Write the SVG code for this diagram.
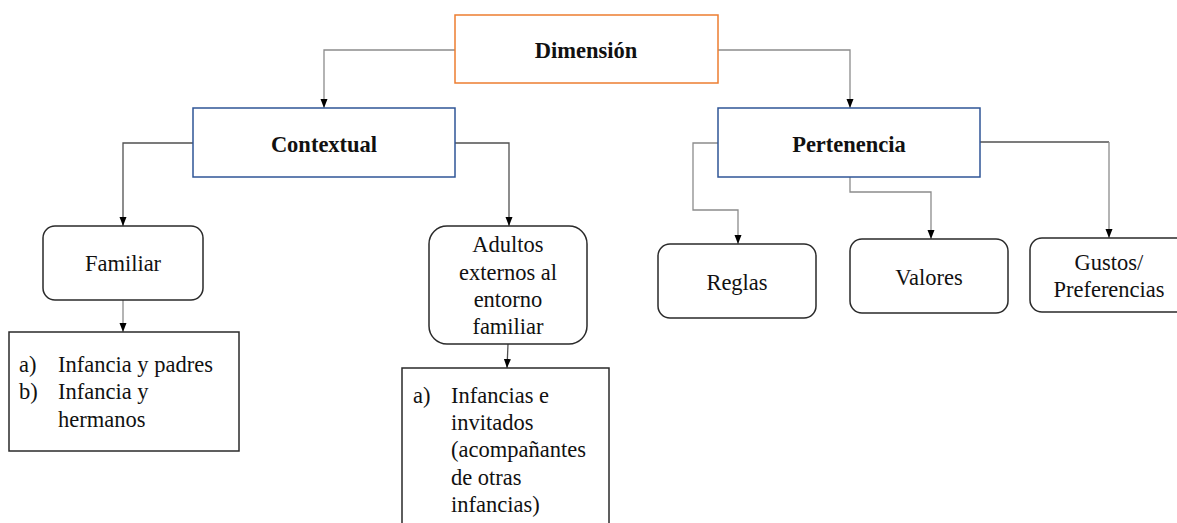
<svg xmlns="http://www.w3.org/2000/svg" width="1177" height="523" viewBox="0 0 1177 523">
<style>
  text{font-family:'Liberation Serif','Times New Roman',Times,serif;font-size:22.5px;fill:#111;}
  .c{text-anchor:middle;}
  .b{font-weight:bold;}
  .conn{fill:none;stroke:#8c8c8c;stroke-width:1.3;}
  .dark{stroke:#505050;}
  .box{fill:#fff;stroke:#2a2a2a;stroke-width:1.5;}
  .orange{fill:#fff;stroke:#ED7D31;stroke-width:1.5;}
  .blue{fill:#fff;stroke:#2F5597;stroke-width:1.5;}
</style>
<defs>
  <marker id="arr" markerUnits="userSpaceOnUse" markerWidth="9" markerHeight="9" viewBox="0 0 9 9" refX="9" refY="4.5" orient="auto">
    <path d="M0,1 L9,4.5 L0,8 Z" fill="#000"/>
  </marker>
</defs>
<rect width="1177" height="523" fill="#fff"/>
<g id="connectors">
  <path class="conn" d="M455,50 H324 V108" marker-end="url(#arr)"/>
  <path class="conn" d="M718,50 H850 V108" marker-end="url(#arr)"/>
  <path class="conn dark" d="M193,143 H123 V226" marker-end="url(#arr)"/>
  <path class="conn dark" d="M455,143 H509 V226" marker-end="url(#arr)"/>
  <path class="conn" d="M123,300 V332" marker-end="url(#arr)"/>
  <path class="conn dark" d="M508,344 L507,368" marker-end="url(#arr)"/>
  <path class="conn" d="M718,143 H693 V210 H738 V244" marker-end="url(#arr)"/>
  <path class="conn" d="M850,177 V192 H931 V239" marker-end="url(#arr)"/>
  <path class="conn dark" d="M980,142 H1109"/>
  <path class="conn" d="M1109,142 V238" marker-end="url(#arr)"/>
</g>
<g id="dimension">
  <rect class="orange" x="455" y="15" width="263" height="68"/>
  <text class="c b" x="586" y="58">Dimensión</text>
</g>
<g id="contextual">
  <rect class="blue" x="193" y="108" width="262" height="69"/>
  <text class="c b" x="324" y="152">Contextual</text>
</g>
<g id="pertenencia">
  <rect class="blue" x="718" y="108" width="262" height="69"/>
  <text class="c b" x="849" y="152">Pertenencia</text>
</g>
<g id="familiar">
  <rect class="box" x="43" y="226" width="160" height="74" rx="12"/>
  <text class="c" x="123" y="271">Familiar</text>
</g>
<g id="adultos">
  <rect class="box" x="429" y="226" width="158" height="118" rx="18"/>
  <text class="c" x="508" y="252">Adultos</text>
  <text class="c" x="508" y="280">externos al</text>
  <text class="c" x="508" y="307">entorno</text>
  <text class="c" x="508" y="334">familiar</text>
</g>
<g id="lista-familiar">
  <rect class="box" x="9" y="332" width="230" height="119"/>
  <text x="19" y="372">a)</text>
  <text x="58" y="372">Infancia y padres</text>
  <text x="19" y="399">b)</text>
  <text x="58" y="399">Infancia y</text>
  <text x="58" y="427">hermanos</text>
</g>
<g id="lista-adultos">
  <rect class="box" x="402" y="368" width="207" height="175"/>
  <text x="413" y="403">a)</text>
  <text x="451" y="403">Infancias e</text>
  <text x="451" y="430">invitados</text>
  <text x="451" y="457">(acompañantes</text>
  <text x="451" y="485">de otras</text>
  <text x="451" y="512">infancias)</text>
</g>
<g id="reglas">
  <rect class="box" x="658" y="244" width="158" height="74" rx="12"/>
  <text class="c" x="737" y="290">Reglas</text>
</g>
<g id="valores">
  <rect class="box" x="850" y="239" width="158" height="74" rx="12"/>
  <text class="c" x="929" y="285">Valores</text>
</g>
<g id="gustos">
  <rect class="box" x="1030" y="238" width="170" height="74" rx="12"/>
  <text class="c" x="1109" y="270">Gustos/</text>
  <text class="c" x="1109" y="297">Preferencias</text>
</g>
</svg>
